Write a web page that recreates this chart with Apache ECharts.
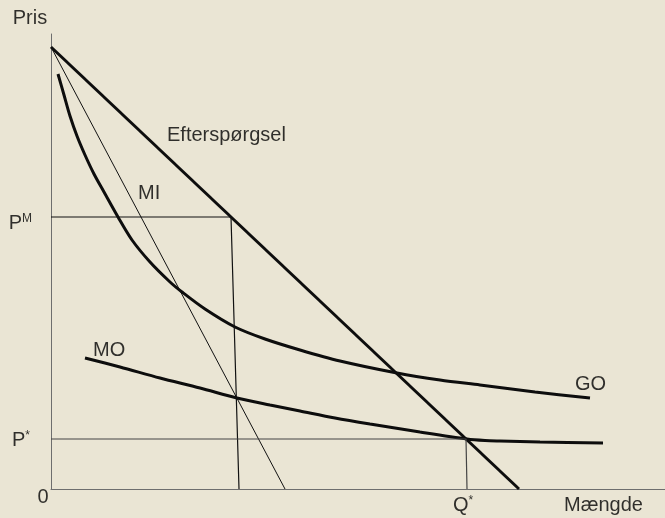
<!DOCTYPE html>
<html lang="da">
<head>
<meta charset="UTF-8">
<title>Monopol</title>
<script src="https://cdn.jsdelivr.net/npm/echarts@6/dist/echarts.min.js"></script>
<style>
  html, body { margin: 0; padding: 0; background: #eae5d4; }
  #main { width: 665px; height: 518px; }
</style>
</head>
<body>
<div id="main"></div>
<script>
// efterspoergsel (demand) og marginalindtaegt (MI) - rette linjer
var demandQ = [0, 468];
var demandP = [442, 0];
var miQ = [0, 234];
var miP = [442, 0];

// gennemsnitsomkostning (GO) og marginalomkostning (MO)
var goQ = [7, 13, 19, 26, 34, 43, 53, 67, 81, 99, 119, 131, 154, 184, 214, 249, 289, 346, 389, 429, 484, 539];
var goP = [415, 394, 373, 353, 334, 315, 297, 272, 249, 227, 207, 197, 180, 162, 150, 139, 128, 116, 109, 104, 97, 91];
var moQ = [34, 69, 109, 149, 186, 219, 249, 284, 319, 369, 416, 434, 449, 489, 552];
var moP = [131, 122, 111, 101, 91, 84, 78, 71, 65, 57, 50, 48.5, 48, 47, 46];

// hjaelpelinjer: monopolpris og konkurrencepris
var pM = 272;
var qM = [180, 188];
var pStar = 50;
var qStar = [415, 416];

// tekster og deres placering i diagrammets enheder
var labelText = ['Pris', 'Mængde', 'Efterspørgsel', 'MI', 'MO', 'GO', 'P{sup|M}', 'P{sup|*}', 'Q{sup|*}', '0'];
var labelQ = [-21, 513, 116, 87, 42, 524, -19, -21, 412, -8];
var labelP = [471, -16, 354, 296, 139, 105, 266, 49, -16, -8];
var labelAlign = ['center', 'left', 'left', 'left', 'left', 'left', 'right', 'right', 'center', 'center'];

function zip(a, b) {
    var out = [];
    for (var i = 0; i < a.length; i++) out.push([a[i], b[i]]);
    return out;
}

var labelData = [];
for (var i = 0; i < labelText.length; i++) {
    labelData.push({
        value: [labelQ[i], labelP[i]],
        label: { formatter: labelText[i], position: 'inside', align: labelAlign[i] }
    });
}

var chart = echarts.init(document.getElementById('main'));

var thin = { color: '#111', width: 1 };
var thick = { color: '#0d0d0d', width: 3 };

chart.setOption({
    backgroundColor: '#eae5d4',
    animation: false,
    grid: { left: 51, right: 0, top: 34, bottom: 29 },
    xAxis: {
        type: 'value', min: 0, max: 614,
        axisLine: { lineStyle: { color: '#6e6e6e', width: 1 } },
        axisTick: { show: false }, axisLabel: { show: false }, splitLine: { show: false }
    },
    yAxis: {
        type: 'value', min: 0, max: 455,
        axisLine: { show: true, lineStyle: { color: '#6e6e6e', width: 1 } },
        axisTick: { show: false }, axisLabel: { show: false }, splitLine: { show: false }
    },
    series: [
        { type: 'line', data: zip(demandQ, demandP), symbol: 'none', lineStyle: thick },
        { type: 'line', data: zip(miQ, miP), symbol: 'none', lineStyle: thin },
        { type: 'line', data: zip(goQ, goP), symbol: 'none', smooth: 0.3, lineStyle: thick },
        { type: 'line', data: zip(moQ, moP), symbol: 'none', smooth: 0.3, lineStyle: thick },
        { type: 'line', data: [[0, pM], [qM[0], pM], [qM[1], 0]], symbol: 'none', lineStyle: { color: '#111', width: 1.2 } },
        { type: 'line', data: [[0, pStar], [qStar[0], pStar], [qStar[1], 0]], symbol: 'none', lineStyle: { color: '#444', width: 1.2 } },
        {
            type: 'scatter', clip: false, symbolSize: 0, silent: true,
            data: labelData,
            label: {
                show: true,
                color: '#000',
                fontFamily: 'Liberation Sans, Arial, sans-serif',
                fontSize: 20,
                verticalAlign: 'middle',
                rich: {
                    sup: { fontSize: 12, verticalAlign: 'top', padding: [0, 0, 9, 0] }
                }
            }
        }
    ]
});
</script>
</body>
</html>
